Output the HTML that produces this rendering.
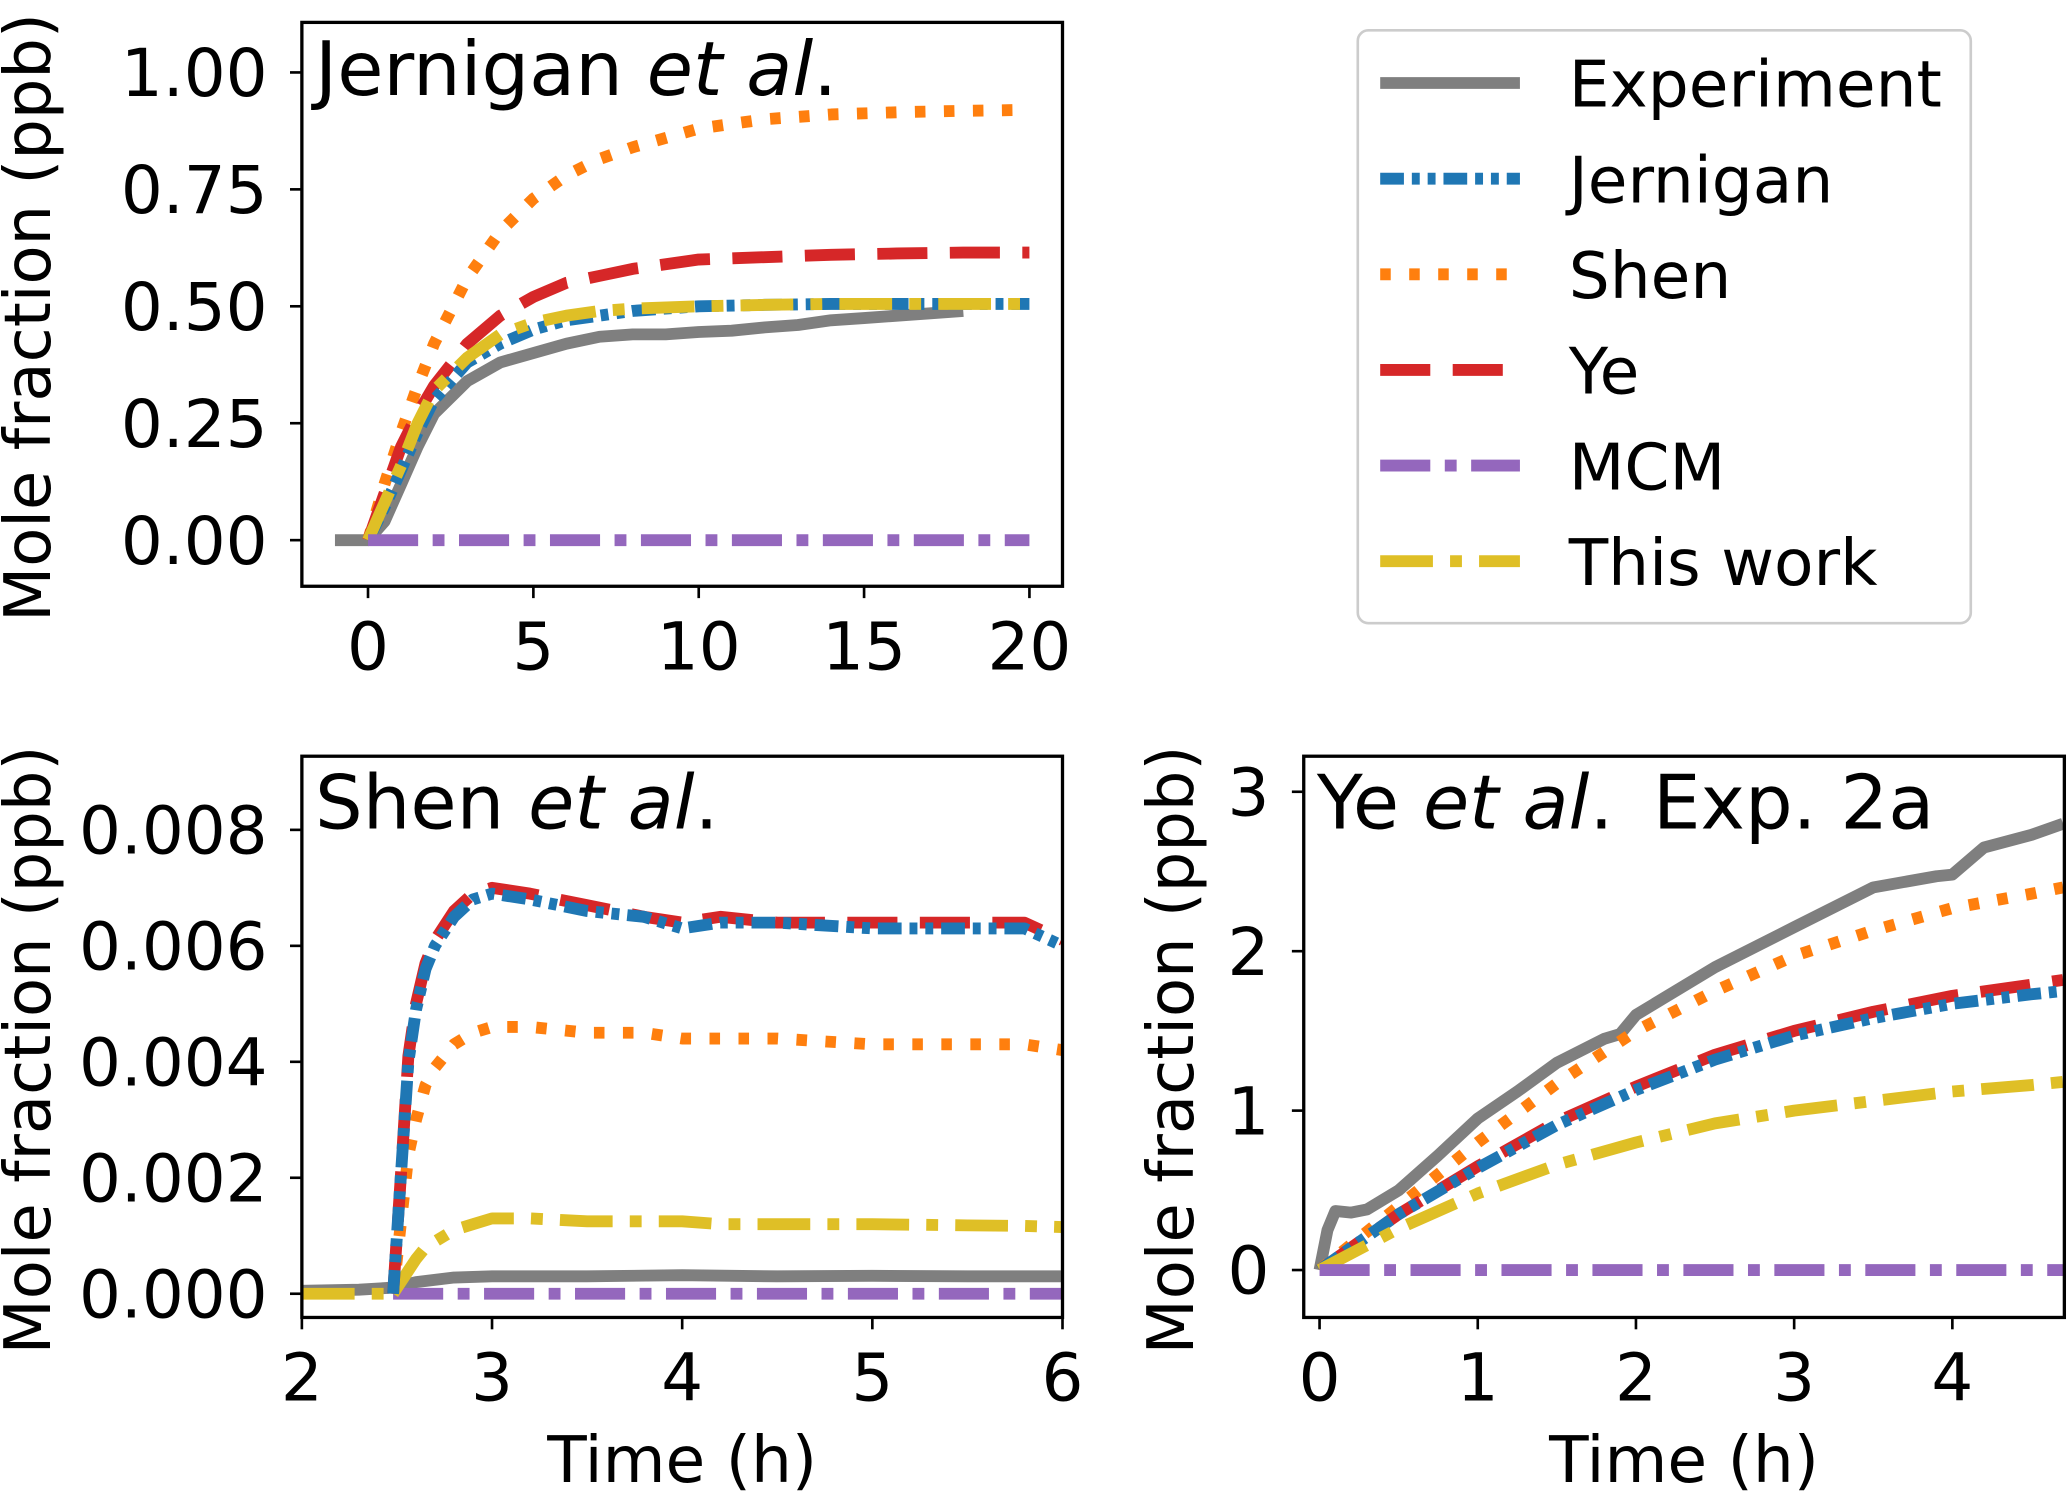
<!DOCTYPE html>
<html><head><meta charset="utf-8"><style>
html,body{margin:0;padding:0;background:#fff}
svg{display:block}
text{font-family:"DejaVu Sans","Liberation Sans",sans-serif;fill:#000}
</style></head><body>
<svg id="fig" width="2067" height="1494" viewBox="0 0 1568 1134" preserveAspectRatio="none" xmlns="http://www.w3.org/2000/svg"></svg>
<script>
// ---- Panel 1 data (Jernigan et al.) ----
const p1ExpT = [-1,0,0.5,1,1.5,2,3,4,5,6,7,8,9,10,11,12,13,14,15,16,17,18];
const p1ExpV = [0,0,0.04,0.12,0.2,0.27,0.34,0.38,0.40,0.42,0.435,0.44,0.44,0.445,0.448,0.455,0.46,0.47,0.475,0.48,0.485,0.49];
const p1T = [0,0.5,1,1.5,2,3,4,5,6,7,8,10,12,14,16,18,20];
const p1Jern = [0,0.07,0.15,0.23,0.3,0.38,0.42,0.45,0.47,0.48,0.49,0.5,0.503,0.505,0.505,0.505,0.505];
const p1This = [0,0.08,0.16,0.25,0.32,0.39,0.44,0.465,0.48,0.49,0.495,0.5,0.503,0.505,0.505,0.505,0.505];
const p1Ye   = [0,0.1,0.2,0.27,0.33,0.42,0.48,0.52,0.55,0.565,0.58,0.6,0.605,0.61,0.613,0.615,0.615];
const p1Shen = [0,0.12,0.23,0.33,0.42,0.56,0.66,0.73,0.78,0.815,0.84,0.88,0.9,0.91,0.915,0.918,0.92];
const p1MCM  = [0,0,0,0,0,0,0,0,0,0,0,0,0,0,0,0,0];
const p1XTicks = [0,5,10,15,20];
const p1YTicks = ["0.00","0.25","0.50","0.75","1.00"];
// ---- Panel 2 data (Shen et al.) ----
const p2ExpT = [2,2.3,2.45,2.5,2.6,2.8,3,3.5,4,4.5,5,5.5,6];
const p2ExpV = [0.00005,0.00007,0.0001,0.00012,0.0002,0.00028,0.0003,0.0003,0.00032,0.0003,0.00031,0.0003,0.0003];
const p2T = [2.48,2.52,2.56,2.6,2.65,2.7,2.8,2.9,3,3.2,3.5,3.8,4,4.2,4.5,5,5.5,5.8,6];
const p2Jern = [0,0.002,0.004,0.0049,0.0056,0.006,0.0065,0.0068,0.0069,0.0068,0.0066,0.0065,0.0063,0.0064,0.0064,0.0063,0.0063,0.0063,0.006];
const p2Ye   = [0,0.002,0.0041,0.005,0.0057,0.0061,0.0066,0.0069,0.0070,0.0069,0.0067,0.0065,0.0064,0.0065,0.0064,0.0064,0.0064,0.0064,0.0061];
const p2Shen = [0,0.0012,0.0024,0.003,0.0036,0.0039,0.0043,0.0045,0.0046,0.0046,0.0045,0.0045,0.0044,0.0044,0.0044,0.0043,0.0043,0.0043,0.0042];
const p2This = [0,0.0002,0.0004,0.0006,0.0008,0.0009,0.0011,0.0012,0.0013,0.0013,0.00125,0.00125,0.00125,0.0012,0.0012,0.0012,0.00118,0.00117,0.00115];
const p2PreT = [2,2.48];
const p2PreV = [0,0];
const p2XTicks = [2,3,4,5,6];
const p2YTicks = ["0.000","0.002","0.004","0.006","0.008"];
// ---- Panel 3 data (Ye et al. Exp. 2a) ----
const p3ExpT = [0,0.05,0.1,0.2,0.3,0.5,0.75,1,1.25,1.5,1.8,1.9,2,2.5,3,3.5,3.9,4,4.2,4.5,4.7];
const p3ExpV = [0,0.25,0.37,0.36,0.38,0.5,0.72,0.95,1.12,1.3,1.45,1.48,1.6,1.9,2.15,2.4,2.47,2.48,2.65,2.73,2.8];
const p3T = [0,0.5,1,1.5,2,2.5,3,3.5,4,4.5,4.7];
const p3Shen = [0,0.4,0.8,1.17,1.5,1.75,1.97,2.13,2.27,2.36,2.4];
const p3Ye   = [0,0.35,0.65,0.93,1.15,1.35,1.5,1.62,1.72,1.79,1.82];
const p3Jern = [0,0.35,0.64,0.91,1.13,1.32,1.47,1.58,1.67,1.73,1.75];
const p3This = [0,0.26,0.48,0.66,0.8,0.92,1.0,1.06,1.12,1.16,1.18];
const p3MCM  = [0,0,0,0,0,0,0,0,0,0,0];
const p3XTicks = [0,1,2,3,4];
const p3YTicks = ["0","1","2","3"];
const legendLabels = ["Experiment","Jernigan","Shen","Ye","MCM","This work"];

const NS="http://www.w3.org/2000/svg";
const svg=document.getElementById('fig');
function mk(tag,attrs,parent){const e=document.createElementNS(NS,tag);for(const k in attrs)e.setAttribute(k,attrs[k]);(parent||svg).appendChild(e);return e;}
const ST={
 exp:{stroke:"#7f7f7f",dash:""},
 jern:{stroke:"#1f77b4",dash:"18 6 6 6 6 6"},
 shen:{stroke:"#ff7f0e",dash:"8 14"},
 ye:{stroke:"#d62728",dash:"38 17"},
 mcm:{stroke:"#9467bd",dash:"38 11 9 11"},
 thisw:{stroke:"#dfbf26",dash:"40 13 9 13"}
};
function panel(name,box,xr,yr,xt,yt,yvals,title,series,xlabel){
 const g=mk('g',{});
 
 
 const sx=v=>box.x0+(v-xr[0])/(xr[1]-xr[0])*(box.x1-box.x0);
 const sy=v=>box.y0-(v-yr[0])/(yr[1]-yr[0])*(box.y0-box.y1);
 const cp=mk('clipPath',{id:name+'-clip'},g);
 mk('rect',{x:box.x0,y:box.y1,width:box.x1-box.x0,height:box.y0-box.y1},cp);
 const sg=mk('g',{'clip-path':'url(#'+name+'-clip)'},g);
 series.forEach(s=>{
  const d=s.t.map((t,i)=>(i?'L':'M')+sx(t).toFixed(1)+' '+sy(s.v[i]).toFixed(1)).join(' ');
  const p=mk('path',{d:d,fill:'none',stroke:ST[s.k].stroke,'stroke-width':9,'stroke-dasharray':ST[s.k].dash,'stroke-linejoin':'round'},sg);
  
  
 });
 const fr=mk('rect',{x:box.x0,y:box.y1,width:box.x1-box.x0,height:box.y0-box.y1,fill:'none',stroke:'#000','stroke-width':2.5},g);
 
 
 xt.forEach(v=>{
  const x=sx(v);
  mk('line',{x1:x,x2:x,y1:box.y0,y2:box.y0+9,stroke:'#000','stroke-width':2},g);
  const t=mk('text',{x:x,y:box.y0+63,'font-size':50,'text-anchor':'middle'},g);
  t.textContent=v;
  
  
 });
 yt.forEach((lab,i)=>{
  const y=sy(yvals[i]);
  mk('line',{x1:box.x0-9,x2:box.x0,y1:y,y2:y,stroke:'#000','stroke-width':2},g);
  const t=mk('text',{x:box.x0-26,y:y+18,'font-size':50,'text-anchor':'end'},g);
  t.textContent=lab;
  
  
 });
 const yl=mk('text',{x:0,y:0,'font-size':48.5,'text-anchor':'middle',transform:`translate(${box.ylx},${(box.y0+box.y1)/2+10}) rotate(-90)`},g);
 yl.textContent="Mole fraction (ppb)";
 
 
 if(xlabel){
  const xl=mk('text',{x:(box.x0+box.x1)/2,y:1125,'font-size':49,'text-anchor':'middle'},g);
  xl.textContent="Time (h)";
  
  
 }
 const tt=mk('text',{x:box.x0+10,y:box.y1+55,'font-size':57},g);
 tt.innerHTML=title;
 
 
}
panel('jernigan-panel',{x0:229,x1:806,y0:445,y1:17,ylx:38},[-2,21],[-0.0986,1.107],p1XTicks,p1YTicks,[0,0.25,0.5,0.75,1],
 'Jernigan <tspan font-style="italic">et al</tspan>.',
 [{k:'exp',t:p1ExpT,v:p1ExpV},{k:'shen',t:p1T,v:p1Shen},{k:'ye',t:p1T,v:p1Ye},{k:'jern',t:p1T,v:p1Jern},{k:'thisw',t:p1T,v:p1This},{k:'mcm',t:p1T,v:p1MCM}],false);
panel('shen-panel',{x0:229,x1:806,y0:1000,y1:574,ylx:38},[2,6],[-0.000409,0.00927],p2XTicks,p2YTicks,[0,0.002,0.004,0.006,0.008],
 'Shen <tspan font-style="italic">et al</tspan>.',
 [{k:'exp',t:p2ExpT,v:p2ExpV},{k:'mcm',t:p2T,v:p2T.map(()=>0)},{k:'thisw',t:p2PreT,v:p2PreV},{k:'shen',t:p2T,v:p2Shen},{k:'thisw',t:p2T,v:p2This},{k:'ye',t:p2T,v:p2Ye},{k:'jern',t:p2T,v:p2Jern}],true);
panel('ye-panel',{x0:989,x1:1566,y0:1000,y1:574,ylx:905},[-0.1,4.708],[-0.2975,3.223],p3XTicks,p3YTicks,[0,1,2,3],
 'Ye <tspan font-style="italic">et al</tspan>. <tspan dx="12">Exp. 2a</tspan>',
 [{k:'exp',t:p3ExpT,v:p3ExpV},{k:'shen',t:p3T,v:p3Shen},{k:'ye',t:p3T,v:p3Ye},{k:'jern',t:p3T,v:p3Jern},{k:'thisw',t:p3T,v:p3This},{k:'mcm',t:p3T,v:p3MCM}],true);
// legend
const lg=mk('g',{});


mk('rect',{x:1030,y:23,width:465,height:450,rx:8,fill:'#fff',stroke:'#ccc','stroke-width':2},lg);
const keys=['exp','jern','shen','ye','mcm','thisw'];
legendLabels.forEach((lab,i)=>{
 const y=63+i*72.6;
 const e=mk('g',{},lg);
 
 
 mk('line',{x1:1047,x2:1153,y1:y,y2:y,stroke:ST[keys[i]].stroke,'stroke-width':9,'stroke-dasharray':ST[keys[i]].dash},e);
 const t=mk('text',{x:1190,y:y+18,'font-size':49},e);
 t.textContent=lab;
});
</script>
</body></html>
